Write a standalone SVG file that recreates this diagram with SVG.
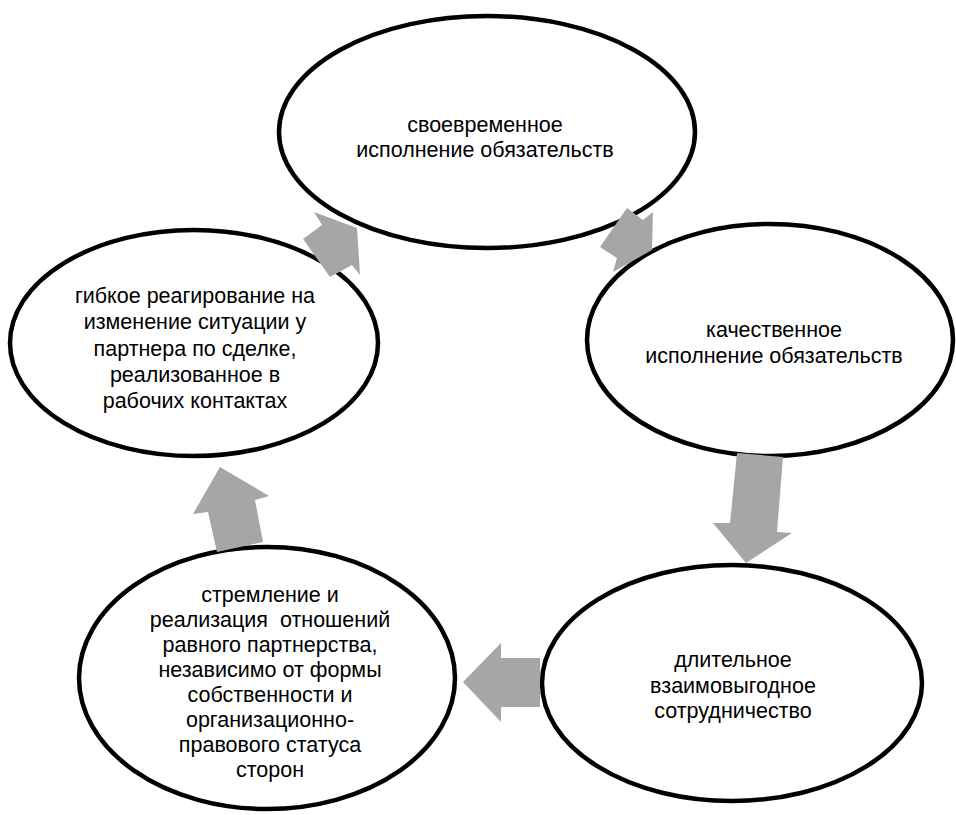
<svg xmlns="http://www.w3.org/2000/svg" width="956" height="815" viewBox="0 0 956 815">
<style>
.node ellipse{fill:#fff;stroke:#000;stroke-width:4.5}
.node text{font-family:"Liberation Sans","Noto Sans","DejaVu Sans",sans-serif;font-size:21.5px;fill:#000;text-anchor:middle}
.conn polygon{fill:#a6a6a6;stroke:none}
</style>
<rect width="956" height="815" fill="#fff"/>
<g id="n1" class="node">
<ellipse cx="487" cy="132" rx="208" ry="116"/>
<text x="485" y="132">своевременное</text>
<text x="485" y="157">исполнение обязательств</text>
</g>
<g id="n2" class="node">
<ellipse cx="770" cy="340" rx="183" ry="116"/>
<text x="774" y="337">качественное</text>
<text x="774" y="363">исполнение обязательств</text>
</g>
<g id="n3" class="node">
<ellipse cx="732" cy="683" rx="190" ry="118"/>
<text x="733" y="667">длительное</text>
<text x="733" y="693">взаимовыгодное</text>
<text x="733" y="718">сотрудничество</text>
</g>
<g id="n4" class="node">
<ellipse cx="267" cy="678" rx="188" ry="131"/>
<text x="270" y="602">стремление и</text>
<text x="270" y="627" xml:space="preserve">реализация  отношений</text>
<text x="270" y="652">равного партнерства,</text>
<text x="270" y="677">независимо от формы</text>
<text x="270" y="702">собственности и</text>
<text x="270" y="727">организационно-</text>
<text x="270" y="752">правового статуса</text>
<text x="270" y="777">сторон</text>
</g>
<g id="n5" class="node">
<ellipse cx="194" cy="343" rx="184" ry="113"/>
<text x="195" y="303">гибкое реагирование на</text>
<text x="195" y="329">изменение ситуации у</text>
<text x="195" y="356">партнера по сделке,</text>
<text x="195" y="382">реализованное в</text>
<text x="195" y="408">рабочих контактах</text>
</g>
<g id="connectors" class="conn">
<polygon points="627,208 643,220 653,212 652,250 613,272 617,258 600,247"/>
<polygon points="737,453 783,457 777,532 792,533 746,563 713,523 730,523"/>
<polygon points="540,658 540,707 501,707 501,722 463,682 501,643 501,658"/>
<polygon points="220,467 269,496 255,500 263,542 217,552 208,512 193,514"/>
<polygon points="314,212 357,228 360,275 352,265 330,277 303,239 322,225"/>
</g>
</svg>
